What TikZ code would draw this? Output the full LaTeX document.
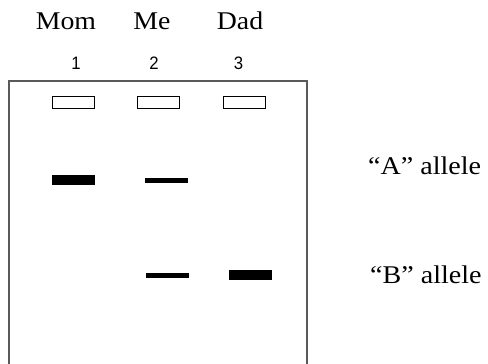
\documentclass[tikz,border=0pt]{standalone}
\usepackage{fontspec}
\setmainfont{Liberation Serif}
\newfontfamily\serfont{Liberation Serif}
\newfontfamily\numfont{Liberation Sans}
\definecolor{gelgray}{RGB}{90,90,90}
\begin{document}
\begin{tikzpicture}[x=1pt,y=-1pt,
  lbl/.style={anchor=base,inner sep=0pt,font=\serfont\fontsize{25.5}{30}\selectfont,xscale=1.09},
  allele/.style={anchor=base west,inner sep=0pt,font=\serfont\fontsize{25.5}{30}\selectfont,xscale=1.1},
  lane/.style={anchor=base,inner sep=0pt,font=\numfont\fontsize{18}{20}\selectfont,xscale=0.93},
  well/.style={draw=black,line width=0.9pt,fill=white,inner sep=0pt,minimum width=42pt,minimum height=12pt},
  band/.style={fill=black,inner sep=0pt,minimum width=43pt},
  gel/.style={draw=gelgray,line width=1.5pt}]
\useasboundingbox (0,0) rectangle (488,364);
% labels
\node[lbl] (mom) at (66,29) {Mom};
\node[lbl] (me) at (152,29) {Me};
\node[lbl] (dad) at (240,29) {Dad};
\node[lane] (n1) at (76,69.5) {1};
\node[lane] (n2) at (154,69.5) {2};
\node[lane] (n3) at (238.5,69.5) {3};
% gel outline (open at the bottom)
\coordinate (gbl) at (9,366);
\coordinate (gtl) at (9,81);
\coordinate (gtr) at (307,81);
\coordinate (gbr) at (307,366);
\draw[gel] (gbl) -- (gtl) -- (gtr) -- (gbr);
% wells
\node[well] (w1) at (73,102.5) {};
\node[well] (w2) at (158.5,102.5) {};
\node[well] (w3) at (244,102.5) {};
% bands
\node[band,minimum height=10pt] (b1a) at (73.5,180) {};
\node[band,minimum height=5pt] (b2a) at (166.5,180.5) {};
\node[band,minimum height=5pt] (b2b) at (167.5,275.5) {};
\node[band,minimum height=10pt] (b3b) at (250.5,275) {};
% allele labels
\node[allele] (la) at (368,174) {“A” allele};
\node[allele] (lb) at (370,283) {“B” allele};
\end{tikzpicture}
\end{document}
